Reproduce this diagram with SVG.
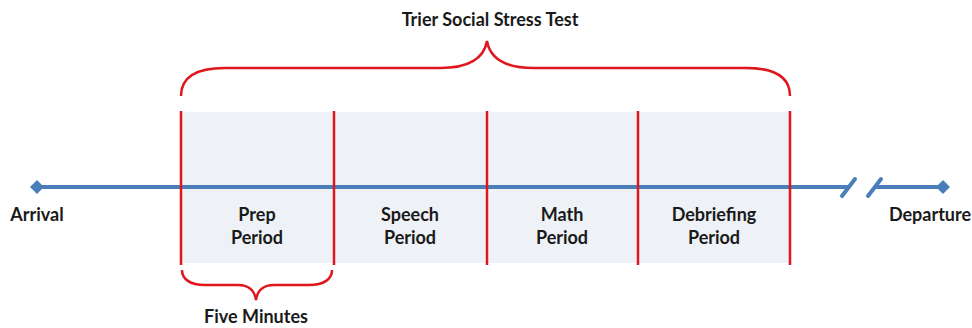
<svg xmlns="http://www.w3.org/2000/svg" width="972" height="328" viewBox="0 0 972 328">
<style>
text{font-family:"Lato","Liberation Sans",sans-serif;font-weight:bold;font-size:18px;fill:#1a1a1a;text-anchor:middle}
.red{stroke:#e0161e;stroke-width:2.5;fill:none}
.blue{stroke:#4a7ebb;stroke-width:4;fill:none}
</style>
<rect x="181" y="112" width="609" height="151" fill="#eef2f7"/>
<g id="connectors">
<line class="blue" x1="37" y1="187" x2="848" y2="187"/>
<line class="blue" x1="874" y1="187" x2="943" y2="187"/>
<line class="blue" x1="842" y1="196" x2="855" y2="179" stroke-linecap="round"/>
<line class="blue" x1="868" y1="196" x2="881" y2="179" stroke-linecap="round"/>
<path d="M37 180 L44 187 L37 194 L30 187 Z" fill="#4a7ebb"/>
<path d="M943 180 L950 187 L943 194 L936 187 Z" fill="#4a7ebb"/>
</g>
<g id="dividers">
<line class="red" x1="181" y1="111" x2="181" y2="265"/>
<line class="red" x1="334" y1="111" x2="334" y2="265"/>
<line class="red" x1="487" y1="111" x2="487" y2="265"/>
<line class="red" x1="638" y1="111" x2="638" y2="265"/>
<line class="red" x1="790" y1="111" x2="790" y2="265"/>
</g>
<g id="brace-top">
<path class="red" d="M181 96 C181 78 195 68 225 68 L440 68 C470 68 484 58 487 41 C490 58 504 68 534 68 L746 68 C776 68 790 78 790 96"/>
</g>
<g id="brace-bottom">
<path class="red" d="M182 270 C182 279 190 285 205 285 L238 285 C250 285 255 292 256 300 C257 292 262 285 274 285 L309 285 C324 285 332 279 332 270"/>
</g>
<g id="title"><text x="490" y="26">Trier Social Stress Test</text></g>
<g id="arrival"><text x="37" y="221">Arrival</text></g>
<g id="departure"><text x="930" y="221">Departure</text></g>
<g id="prep"><text x="257" y="221">Prep</text><text x="257" y="244">Period</text></g>
<g id="speech"><text x="410" y="221">Speech</text><text x="410" y="244">Period</text></g>
<g id="math"><text x="562" y="221">Math</text><text x="562" y="244">Period</text></g>
<g id="debrief"><text x="714" y="221">Debriefing</text><text x="714" y="244">Period</text></g>
<g id="five"><text x="256" y="323">Five Minutes</text></g>
</svg>
